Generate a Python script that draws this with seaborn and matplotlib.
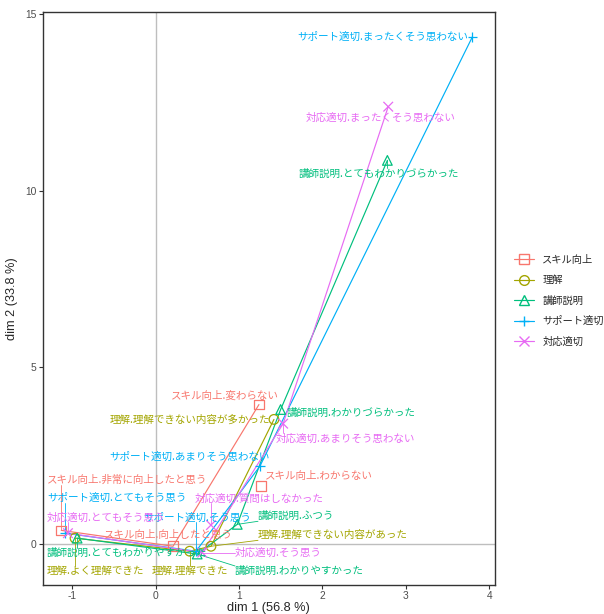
import matplotlib
matplotlib.use('Agg')
import matplotlib.pyplot as plt
import seaborn as sns
import pandas as pd
import numpy as np
from matplotlib.lines import Line2D

# variables of the MCA and their colours / shapes
groups = ['スキル向上', '理解', '講師説明', 'サポート適切', '対応適切']
colors = ['#F8766D', '#A3A500', '#00BF7D', '#00B0F6', '#E76BF3']
markers = ['s', 'o', '^', '+', 'x']

# category coordinates
skill_levels = ['非常に向上したと思う', '向上したと思う', '変わらない', 'わからない']
skill_dim1 = [-1.13, 0.21, 1.24, 1.265]
skill_dim2 = [0.39, -0.06, 3.95, 1.64]

rikai_levels = ['よく理解できた', '理解できた', '理解できない内容があった', '理解できない内容が多かった']
rikai_dim1 = [-0.965, 0.41, 0.665, 1.42]
rikai_dim2 = [0.17, -0.20, -0.06, 3.53]

koshi_levels = ['とてもわかりやすかった', 'わかりやすかった', 'ふつう', 'わかりづらかった', 'とてもわかりづらかった']
koshi_dim1 = [-0.94, 0.50, 0.98, 1.50, 2.78]
koshi_dim2 = [0.17, -0.28, 0.56, 3.81, 10.86]

support_levels = ['とてもそう思う', 'そう思う', 'あまりそう思わない', 'まったくそう思わない']
support_dim1 = [-1.085, 0.485, 1.25, 3.80]
support_dim2 = [0.31, -0.20, 2.20, 14.36]

taiou_levels = ['とてもそう思う', 'そう思う', 'あまりそう思わない', 'まったくそう思わない', '質問はしなかった']
taiou_dim1 = [-1.05, 0.56, 1.53, 2.79, 0.665]
taiou_dim2 = [0.31, -0.24, 3.41, 12.38, 0.54]

# levels joined by the path (non-ordinal answers left out)
path_levels = {
    'スキル向上': skill_levels[:3],
    '理解': rikai_levels,
    '講師説明': koshi_levels,
    'サポート適切': support_levels,
    '対応適切': taiou_levels[:4],
}

rows = []
for g, lv, d1, d2 in zip(groups,
                         [skill_levels, rikai_levels, koshi_levels, support_levels, taiou_levels],
                         [skill_dim1, rikai_dim1, koshi_dim1, support_dim1, taiou_dim1],
                         [skill_dim2, rikai_dim2, koshi_dim2, support_dim2, taiou_dim2]):
    for l, a, b in zip(lv, d1, d2):
        rows.append({'var': g, 'level': l, 'dim1': a, 'dim2': b})
df = pd.DataFrame(rows)
df['label'] = df['var'] + '.' + df['level']

# label placement (left edge x, centre y), hand placed like ggrepel did
label_pos = {
    'サポート適切.まったくそう思わない': (1.697, 14.36),
    '対応適切.まったくそう思わない': (1.805, 12.07),
    '講師説明.とてもわかりづらかった': (1.72, 10.49),
    'スキル向上.変わらない': (0.186, 4.20),
    '理解.理解できない内容が多かった': (-0.546, 3.53),
    '講師説明.わかりづらかった': (1.577, 3.72),
    '対応適切.あまりそう思わない': (1.445, 2.99),
    'サポート適切.あまりそう思わない': (-0.558, 2.48),
    'スキル向上.わからない': (1.313, 1.92),
    'スキル向上.非常に向上したと思う': (-1.301, 1.81),
    'サポート適切.とてもそう思う': (-1.301, 1.30),
    '対応適切.質問はしなかった': (0.474, 1.30),
    '対応適切.とてもそう思う': (-1.301, 0.76),
    'サポート適切.そう思う': (-0.150, 0.76),
    '講師説明.ふつう': (1.229, 0.79),
    'スキル向上.向上したと思う': (-0.618, 0.25),
    '理解.理解できない内容があった': (1.229, 0.25),
    '講師説明.とてもわかりやすかった': (-1.301, -0.25),
    '対応適切.そう思う': (0.953, -0.25),
    '理解.よく理解できた': (-1.301, -0.76),
    '理解.理解できた': (-0.042, -0.76),
    '講師説明.わかりやすかった': (0.953, -0.76),
}

sns.set_style('white')
plt.rcParams['font.family'] = ['Liberation Sans', 'Noto Sans CJK JP', 'DejaVu Sans']
plt.rcParams['axes.unicode_minus'] = False

fig = plt.figure(figsize=(6.04, 6.14), dpi=100)
ax = fig.add_axes([0.0705, 0.047, 0.749, 0.9335])

ax.axhline(0, color='#BEBEBE', lw=1.0, zorder=1)
ax.axvline(0, color='#BEBEBE', lw=1.0, zorder=1)

palette = dict(zip(groups, colors))
for g, c, m in zip(groups, colors, markers):
    sub = df[(df['var'] == g) & (df['level'].isin(path_levels[g]))]
    sns.lineplot(data=sub, x='dim1', y='dim2', sort=False, estimator=None,
                 color=c, lw=0.85, ax=ax, zorder=2)
    pts = df[df['var'] == g]
    sns.scatterplot(data=pts, x='dim1', y='dim2', marker=m, color=c, s=48,
                    linewidth=0.9, ax=ax, zorder=3, legend=False)
    coll = ax.collections[-1]
    coll.set_facecolor('none')
    coll.set_edgecolor(c)

texts = []
for _, r in df.iterrows():
    lx, ly = label_pos[r['label']]
    t = ax.text(lx, ly, r['label'], color=palette[r['var']], fontsize=7.6,
                ha='left', va='center', zorder=4,
                family=['Noto Sans CJK JP', 'DejaVu Sans'])
    texts.append((t, r['dim1'], r['dim2'], palette[r['var']]))

ax.set_xlim(-1.354, 4.07)
ax.set_ylim(-1.16, 15.06)
ax.set_xticks([-1, 0, 1, 2, 3, 4])
ax.set_yticks([0, 5, 10, 15])
ax.set_xlabel('dim 1 (56.8 %)', fontsize=9.2, labelpad=0.5)
ax.set_ylabel('dim 2 (33.8 %)', fontsize=9.2, labelpad=5)
ax.tick_params(axis='both', length=3, width=0.8, color='#333333',
               labelcolor='#4D4D4D', labelsize=7.4, pad=1.5, bottom=True, left=True)
for s in ax.spines.values():
    s.set_color('#333333')
    s.set_linewidth(1.0)

# leader segments from each point to its label box
fig.canvas.draw()
renderer = fig.canvas.get_renderer()
inv = ax.transData.inverted()
for t, px, py, c in texts:
    bb = t.get_window_extent(renderer)
    p = ax.transData.transform((px, py))
    qx = min(max(p[0], bb.x0), bb.x1)
    qy = min(max(p[1], bb.y0), bb.y1)
    d = np.hypot(qx - p[0], qy - p[1])
    if d > 8:
        a = inv.transform(p)
        b = inv.transform((qx, qy))
        ax.plot([a[0], b[0]], [a[1], b[1]], color=c, lw=0.6, zorder=2.5)

handles = [Line2D([0], [0], color=c, marker=m, markerfacecolor='none',
                  markeredgecolor=c, markersize=7, lw=0.85)
           for c, m in zip(colors, markers)]
fig.legend(handles, groups, loc='center left', bbox_to_anchor=(0.835, 0.51),
           frameon=False, handlelength=2.0, labelspacing=1.0,
           prop={'family': ['Noto Sans CJK JP', 'DejaVu Sans'], 'size': 7.4})

fig.savefig('out.png', dpi=100)
